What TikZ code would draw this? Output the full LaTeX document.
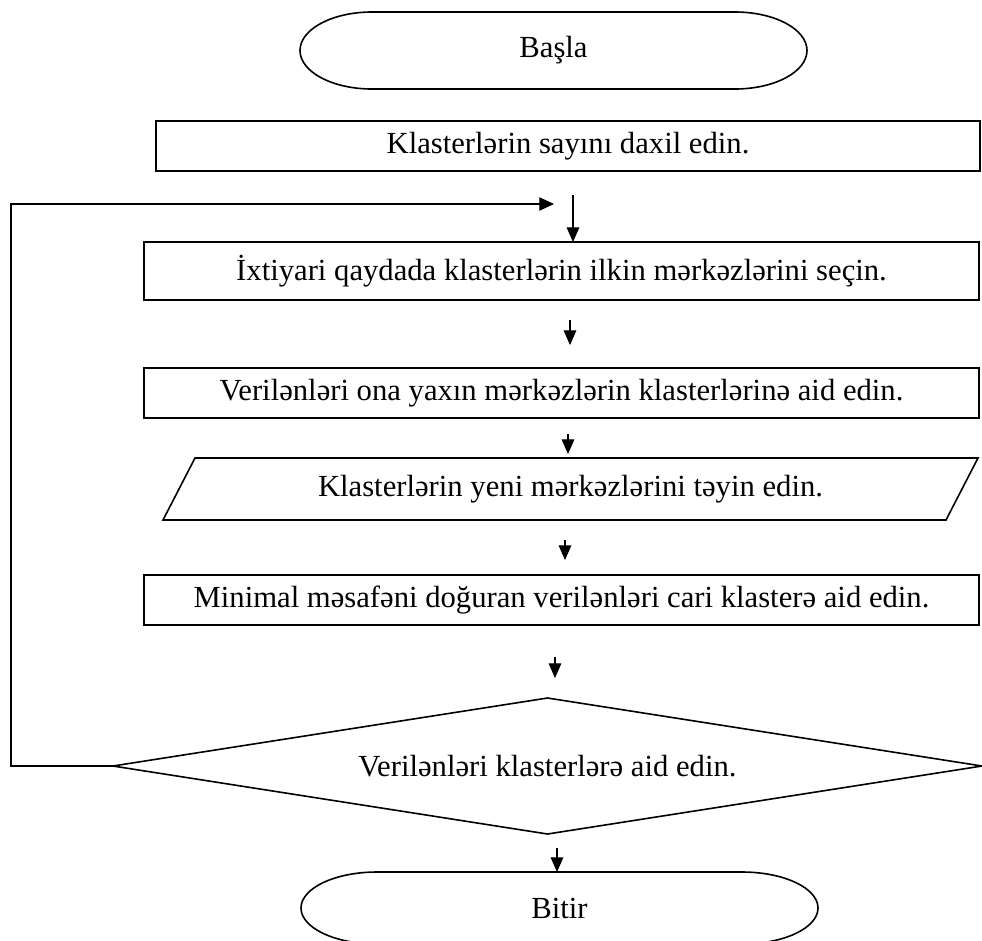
\documentclass[tikz,border=0pt]{standalone}
\usepackage{fontspec}
\setmainfont{Liberation Serif}
\usetikzlibrary{arrows.meta,calc}
\begin{document}
\begin{tikzpicture}[x=0.75pt,y=-0.75pt,
  boxline/.style={line width=1.2pt, draw=black},
  txt/.style={font=\fontsize{23}{27}\selectfont, inner sep=0pt, outer sep=0pt},
  procbox/.style={txt, boxline, minimum height=37.5pt},
  ghost/.style={txt},
  conn/.style={line width=0.8pt, -{Triangle[length=11pt,width=9.5pt]}},
  fb/.style={line width=0.8pt, -{Triangle[length=11pt,width=10pt]}}
]
\useasboundingbox (0,0) rectangle (982,940);

% Start terminator
\node[ghost, minimum width=380.25pt, minimum height=57.75pt] (start) at (553.5,50.5) {Başla};
\draw[boxline] ([xshift=54pt]start.north west) -- ([xshift=-54pt]start.north east)
  arc[start angle=90,end angle=-90,x radius=54pt,y radius=28.875pt]
  -- ([xshift=54pt]start.south west)
  arc[start angle=270,end angle=90,x radius=54pt,y radius=28.875pt] -- cycle;

% Process boxes
\node[procbox, minimum width=618pt] (r1) at (568,146) {Klasterlərin sayını daxil edin.};
\node[procbox, minimum width=626.25pt, minimum height=43.5pt] (r2) at (561.5,271) {İxtiyari qaydada klasterlərin ilkin mərkəzlərini seçin.};
\node[procbox, minimum width=626.25pt] (r3) at (561.5,393) {Verilənləri ona yaxın mərkəzlərin klasterlərinə aid edin.};

% Parallelogram
\node[ghost, minimum width=611.25pt, minimum height=46.5pt] (para) at (570.5,489) {Klasterlərin yeni mərkəzlərini təyin edin.};
\draw[boxline] ([xshift=24pt]para.north west) -- (para.north east)
  -- ([xshift=-24pt]para.south east) -- (para.south west) -- cycle;

\node[procbox, minimum width=626.25pt] (r4) at (561.5,600) {Minimal məsafəni doğuran verilənləri cari klasterə aid edin.};

% Decision
\node[ghost, minimum width=651.75pt, minimum height=102pt] (dec) at (547.5,766) {Verilənləri klasterlərə aid edin.};
\draw[boxline] (dec.west) -- (dec.north) -- (dec.east) -- (dec.south) -- cycle;

% End terminator
\node[ghost, minimum width=387.75pt, minimum height=54pt] (end) at (559.5,908) {Bitir};
\draw[boxline] ([xshift=57pt]end.north west) -- ([xshift=-57pt]end.north east)
  arc[start angle=90,end angle=-90,x radius=57pt,y radius=27pt]
  -- ([xshift=57pt]end.south west)
  arc[start angle=270,end angle=90,x radius=57pt,y radius=27pt] -- cycle;

% Arrows
\coordinate (a1) at (573,195);
\draw[conn] (a1) -- (a1 |- r2.north);
\coordinate (a2s) at (570,320); \coordinate (a2e) at (570,345);
\draw[conn] (a2s) -- (a2e);
\coordinate (a3s) at (568,434); \coordinate (a3e) at (568,454);
\draw[conn] (a3s) -- (a3e);
\coordinate (a4s) at (565,540); \coordinate (a4e) at (565,560);
\draw[conn] (a4s) -- (a4e);
\coordinate (a5s) at (555,657); \coordinate (a5e) at (555,678);
\draw[conn] (a5s) -- (a5e);
\coordinate (a6) at (557,848);
\draw[conn] (a6) -- (a6 |- end.north);

% Feedback loop
\coordinate (fbL) at (11,766);
\coordinate (fbE) at (554,204);
\draw[fb] (dec.west) -- (fbL) |- (fbE);
\end{tikzpicture}
\end{document}
